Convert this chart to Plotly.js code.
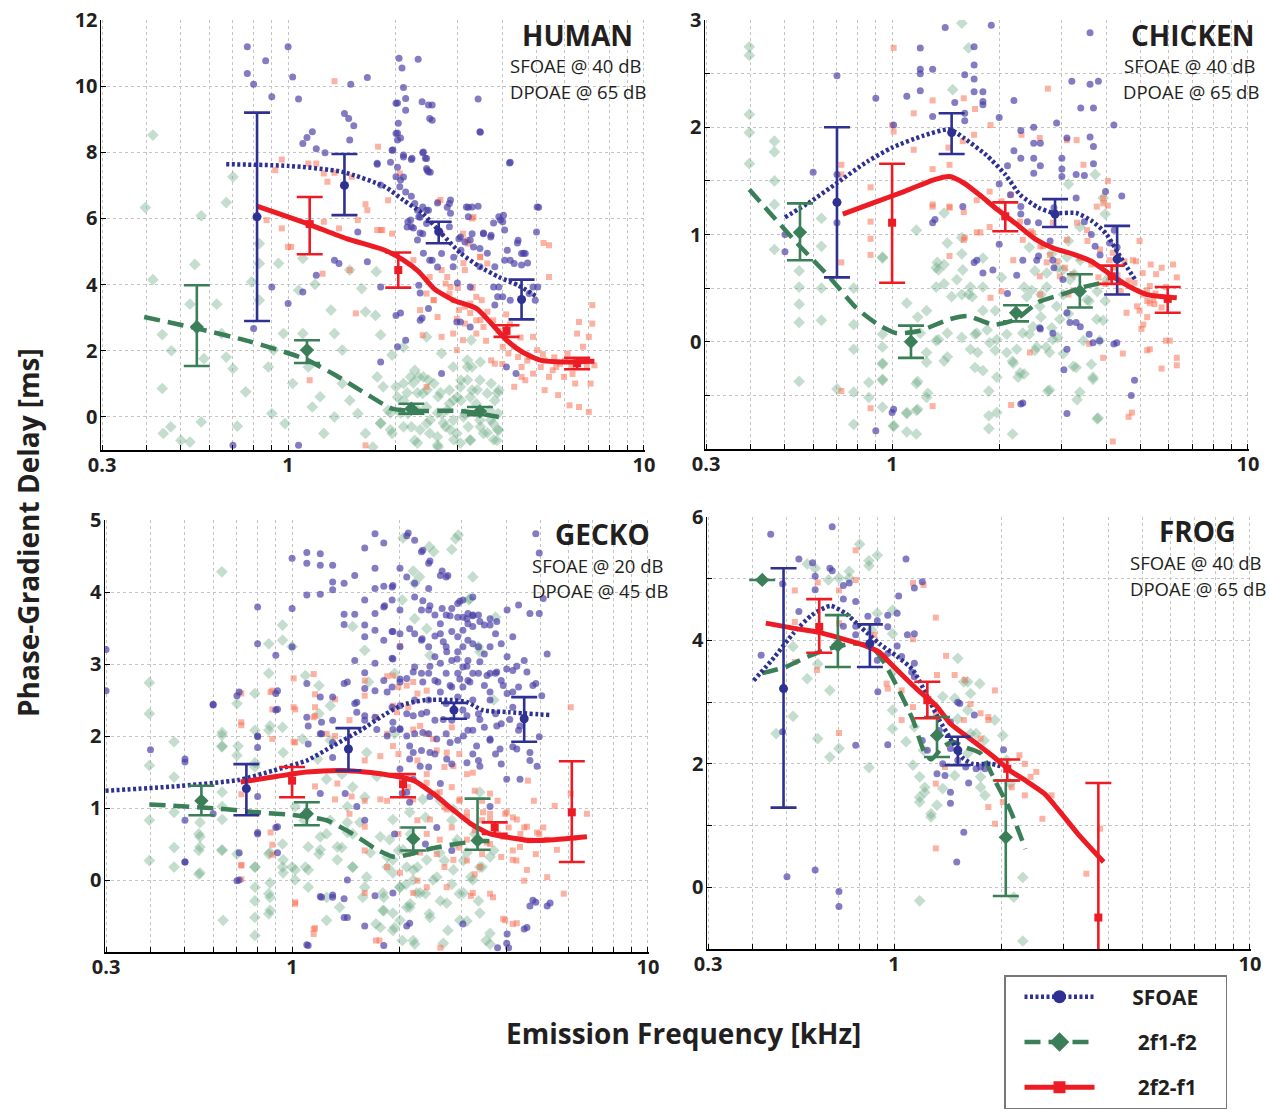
<!DOCTYPE html>
<html><head><meta charset="utf-8">
<script src="https://cdn.plot.ly/plotly-3.0.1.min.js"></script>
<style>html,body{margin:0;padding:0;background:#fff}</style>
</head><body><div id="chart" style="width:1270px;height:1112px"></div>
<script>
// ---------- tick labels ----------
const xTickVals = [0.3,0.4,0.5,0.6,0.7,0.8,0.9,1,2,3,4,5,6,7,8,9,10];
const xTickText = ['0.3','','','','','','','1','','','','','','','','','10'];
const humanYTicks = [0,2,4,6,8,10,12];
const humanYText = ['0','2','4','6','8','10','12'];
const chickenYTicks = [-0.5,0,0.5,1,1.5,2,2.5,3];
const chickenYText = ['','0','','1','','2','','3'];
const geckoYTicks = [0,1,2,3,4,5];
const geckoYText = ['0','1','2','3','4','5'];
const frogYTicks = [0,1,2,3,4,5,6];
const frogYText = ['0','','2','','4','','6'];
const seriesNames = ['SFOAE','2f1-f2','2f2-f1'];
const panelNames = ['HUMAN','CHICKEN','GECKO','FROG'];
const panelSfoaeLevel = ['SFOAE @ 40 dB','SFOAE @ 40 dB','SFOAE @ 20 dB','SFOAE @ 40 dB'];
const panelDpoaeLevel = ['DPOAE @ 65 dB','DPOAE @ 65 dB','DPOAE @ 45 dB','DPOAE @ 65 dB'];

// ---------- HUMAN ----------
const humanSfoaeCloud = [[0.768,11.19],[1.0,11.19],[0.768,10.38],[0.80,10.06],[0.865,10.77],[1.03,10.28],[0.90,9.68],[1.07,9.61],[1.50,10.06],[1.67,10.26],[2.05,10.84],[2.32,10.81],[2.09,10.55],[2.11,9.96],[2.14,9.63],[2.01,9.48],[2.38,9.53],[2.48,9.43],[2.50,9.02],[3.42,9.61],[3.46,8.62],[1.44,9.17],[1.48,9.02],[1.53,8.80],[1.49,8.37],[1.10,8.27],[1.13,8.45],[1.17,8.62],[1.27,7.99],[1.20,8.11],[2.01,8.57],[2.03,8.37],[1.96,8.06],[2.11,7.86],[2.22,7.78],[2.39,7.99],[2.45,7.81],[2.45,7.51],[2.48,7.41],[1.78,7.64],[1.82,7.01],[2.01,7.26],[2.06,6.96],[2.14,6.80],[2.22,6.67],[2.27,6.45],[2.39,6.35],[2.45,6.25],[2.33,6.05],[2.17,5.90],[2.22,5.75],[2.39,5.54],[2.45,5.85],[2.84,6.45],[3.17,6.35],[3.29,6.35],[3.21,6.05],[2.84,5.75],[3.02,5.39],[3.14,5.29],[3.29,5.54],[3.54,5.54],[3.72,5.49],[3.91,6.05],[4.01,5.90],[4.06,5.65],[4.19,7.68],[5.01,6.35],[4.99,5.59],[4.43,5.34],[4.53,4.94],[4.64,4.94],[4.32,4.64],[4.53,4.59],[4.06,4.74],[3.81,4.54],[3.46,5.09],[3.46,4.54],[3.06,5.04],[2.91,4.54],[2.70,4.94],[2.50,4.74],[2.33,3.98],[2.48,3.28],[2.35,2.92],[2.01,3.07],[2.03,2.12],[2.14,2.32],[2.98,2.87],[3.25,2.72],[4.11,1.51],[4.37,1.31],[4.95,3.53],[4.76,3.73],[4.88,3.93],[4.01,3.63],[3.91,3.93],[3.81,3.38],[1.82,1.66],[1.82,3.93],[1.67,4.69],[1.57,5.59],[1.39,4.64],[1.35,4.74],[1.20,4.28],[1.10,3.78],[1.00,3.43],[0.90,3.93],[0.80,2.67],[0.70,-0.86],[1.07,-0.86],[2.70,1.31],
  [2.03,9.49],[2.14,9.27],[2.54,9.43],[2.54,8.97],[2.04,8.88],[2.03,8.58],[2.07,8.43],[1.97,8.07],[2.11,7.92],[2.23,7.82],[2.40,8.01],[2.43,7.82],[2.46,7.46],[2.51,7.40],[2.03,7.55],[2.07,7.16],[2.11,7.25],[1.78,7.67],[1.94,7.70],[3.47,8.61],[4.21,7.70],[2.31,6.25],[2.35,6.04],[2.21,5.95],[2.16,5.74],[2.25,5.71],[2.35,5.56],[2.48,6.25],[2.80,6.34],[2.86,6.56],[3.21,6.34],[3.42,6.37],[2.63,6.47],[2.86,6.16],[3.05,5.44],[3.25,5.35],[3.54,5.56],[3.71,5.44],[3.78,5.86],[3.95,5.95],[4.03,6.10],[4.13,5.04],[4.41,5.26],[4.59,4.95],[4.71,4.65],[4.21,4.74],[3.63,4.95],[3.32,5.14],[2.92,4.83],[2.63,4.53],[2.40,4.95],[2.31,5.35],[2.99,4.05],[3.25,3.93],[3.78,3.93],[3.88,3.63],[4.21,3.53],[5.03,3.93],[5.06,6.34],[2.54,4.74],[2.35,3.75],[2.07,3.14],[2.38,2.99],[3.05,2.87]];
const humanDp1Cloud = [[0.417,8.52],[0.397,6.33],[0.70,7.26],[0.67,6.48],[0.57,6.08],[0.417,4.15],[0.547,4.61],[0.53,3.41],[0.63,3.41],[0.443,2.49],[0.47,2.0],[0.443,0.86],[0.446,-0.50],[0.468,-0.30],[0.50,-0.71],[0.53,-0.76],[0.57,-0.15],[0.72,-0.28],[0.70,1.46],[0.67,1.81],[0.76,0.76],[0.58,1.76],[0.65,2.52],[0.83,5.24],[0.83,4.64],[0.79,4.08],[0.83,3.53],[0.94,4.64],[0.97,2.52],[0.91,2.02],[0.88,1.51],[0.90,0.10],[0.98,-0.20],[1.03,1.01],[1.10,2.52],[1.07,3.83],[1.10,4.79],[1.19,4.01],[1.32,3.23],[1.35,2.52],[1.42,2.02],[1.49,4.44],[1.61,3.88],[1.65,3.18],[1.77,4.39],[1.76,3.07],[1.14,1.51],[1.23,0.61],[1.26,-0.50],[1.17,0.30],[1.35,0.0],[1.42,1.01],[1.49,0.50],[1.57,0.10],[1.65,-0.50],[1.73,-0.91],[1.82,-0.20],[1.91,0.20],[1.96,-0.50],[2.01,0.91],[2.11,1.01],[2.11,0.50],[2.17,0.10],[2.22,-0.30],[2.27,-0.71],[2.33,1.21],[2.39,0.71],[2.45,0.30],[2.45,-0.20],[2.50,-0.50],[2.57,1.01],[2.64,0.61],[2.64,-0.91],[2.70,0.10],[2.77,-0.30],[2.84,0.81],[2.84,0.40],[2.91,-0.10],[2.98,-0.50],[3.06,1.11],[3.06,0.50],[3.14,0.10],[3.21,-0.30],[3.25,-0.71],[3.29,0.81],[3.38,0.40],[3.46,1.11],[3.46,-0.10],[3.54,-0.50],[3.63,0.71],[3.68,0.20],[3.72,1.01],[3.77,-0.20],[3.81,0.50],[3.86,-0.71],[3.89,0.10],[3.91,0.81],[3.91,-0.40],[3.27,2.32],[2.45,2.42],[2.70,1.92],[2.27,1.41],[3.29,1.51],[2.91,1.51],
  [1.82,2.48],[1.96,1.87],[2.11,2.11],[2.21,1.21],[2.25,1.03],[2.40,1.21],[2.48,1.12],[2.46,0.82],[2.31,0.73],[2.16,0.73],[2.03,0.60],[1.85,0.91],[1.78,1.21],[1.82,-0.18],[1.94,-0.39],[2.11,-0.30],[2.35,-0.39],[2.51,-0.09],[2.63,-0.60],[2.73,-0.18],[2.86,-0.39],[2.92,-0.69],[2.99,0.60],[3.05,0.91],[3.19,1.12],[3.25,0.60],[3.40,0.82],[3.47,-0.30],[3.63,-0.48],[3.71,-0.09],[3.88,0.73],[3.88,-0.39],[3.78,-0.69],[2.63,0.12],[2.80,0.21],[3.11,0.0],[3.40,0.12],[2.92,0.51],[2.68,0.73],[2.07,0.12],[2.31,0.21],[1.94,0.12],[3.25,-0.69],[3.05,-0.79],[2.63,-0.85],[2.31,-0.79],[3.19,1.72],[3.19,1.51],[3.47,1.66]];
const humanDp2Cloud = [[1.35,10.15],[1.79,8.17],[0.96,7.78],[0.92,7.46],[1.14,7.66],[1.20,7.66],[1.26,7.36],[1.35,7.38],[1.29,7.11],[1.51,7.26],[1.65,6.43],[1.67,6.25],[1.91,6.55],[2.06,7.36],[0.87,5.95],[0.96,5.70],[1.00,5.14],[1.26,5.90],[1.39,5.70],[1.57,5.95],[1.78,5.65],[1.84,5.65],[1.96,5.54],[2.25,4.74],[2.64,6.50],[2.70,5.54],[3.10,5.54],[3.29,6.00],[3.21,5.24],[3.46,4.84],[3.63,4.64],[5.41,5.19],[5.41,4.23],[3.14,4.44],[2.50,4.23],[2.70,4.44],[2.45,3.73],[2.57,3.53],[2.77,4.03],[2.84,3.73],[2.91,3.53],[3.02,3.23],[3.14,3.33],[3.25,3.43],[3.38,3.63],[3.50,3.53],[3.63,3.18],[3.77,2.92],[2.98,2.97],[3.14,2.82],[3.38,2.92],[3.54,2.72],[3.10,2.32],[2.98,2.02],[2.91,2.52],[3.38,2.52],[3.72,1.71],[4.01,2.12],[4.16,1.92],[4.32,2.12],[4.43,1.81],[4.53,1.51],[4.64,1.11],[4.76,1.81],[4.88,2.42],[5.01,2.02],[5.13,1.51],[5.26,1.71],[5.41,1.21],[5.54,1.41],[5.67,1.51],[5.81,1.61],[5.96,1.21],[6.10,1.92],[6.25,1.51],[6.49,2.52],[6.57,2.87],[6.74,2.12],[6.91,1.51],[7.08,1.01],[7.16,3.38],[7.16,2.82],[7.00,2.42],[7.26,1.56],[6.41,1.01],[6.18,0.35],[6.57,0.30],[7.00,0.15],[5.74,0.66],[5.26,0.81],[4.53,1.21],[4.32,0.91],[4.88,1.31],[3.81,1.61],[2.70,2.42],[2.39,2.47],[2.45,0.91],[1.55,3.13],[1.49,4.44],[1.25,4.33],[1.15,1.11],[1.65,-0.86],[1.02,5.14],[3.9,2.6],[4.2,2.8],[4.5,2.4],[3.6,2.3],[4.0,1.6],[4.7,1.7],[5.2,1.9],[5.6,1.8],[6.0,1.7],[6.3,1.3],[6.7,1.7],[4.1,3.1],[3.3,3.9],[3.0,3.9],
  [3.19,5.35],[3.47,4.83],[3.11,4.65],[2.80,4.23],[2.86,3.93],[2.56,3.53],[2.35,3.23],[2.63,3.02],[3.25,3.14],[3.47,2.93],[5.22,5.26],[1.82,5.65],[2.68,6.56],[3.32,6.04]];
const humanSfoaeLineF = [0.67,1.0,1.42,1.87,2.11,2.39,2.70,3.06,3.46,3.91,4.43,5.01];
const humanSfoaeLineV = [7.64,7.59,7.41,6.96,6.55,6.15,5.54,4.94,4.54,4.23,3.98,3.63];
const humanDp1LineF = [0.394,0.557,0.787,1.11,1.36,1.65,1.96,2.27,3.06,3.91];
const humanDp1LineV = [3.02,2.67,2.27,1.76,1.26,0.71,0.25,0.18,0.18,0.0];
const humanDp2LineF = [0.817,1.14,1.46,1.87,2.11,2.33,2.57,2.91,3.38,3.73,4.11,4.54,5.14,5.96,7.26];
const humanDp2LineV = [6.37,5.83,5.39,5.04,4.74,4.39,3.88,3.53,3.28,2.82,2.32,1.97,1.71,1.66,1.68];
const humanSfoaeBinF = [0.818,1.44,2.65,4.53];
const humanSfoaeBinMean = [6.05,7.0,5.6,3.55];
const humanSfoaeBinHi = [9.2,7.95,5.9,4.15];
const humanSfoaeBinLo = [2.9,6.1,5.25,2.95];
const humanDp1BinF = [0.554,1.13,2.22,3.46];
const humanDp1BinMean = [2.72,2.02,0.25,0.17];
const humanDp1BinHi = [3.98,2.32,0.40,0.30];
const humanDp1BinLo = [1.54,1.63,0.10,0.05];
const humanDp2BinF = [1.15,2.04,4.11,6.49];
const humanDp2BinMean = [5.83,4.44,2.6,1.62];
const humanDp2BinHi = [6.65,4.97,2.77,1.79];
const humanDp2BinLo = [4.92,3.91,2.42,1.44];

// ---------- CHICKEN ----------
const chickenSfoaeCloud = [[1.41,2.93],[1.90,2.95],[3.60,2.88],[1.70,2.75],[1.20,2.74],[1.30,2.54],[1.20,2.54],[1.20,2.50],[0.70,2.48],[1.60,2.49],[1.70,2.58],[1.70,2.45],[1.70,2.33],[1.80,2.33],[0.90,2.27],[1.10,2.29],[1.20,2.34],[2.20,2.25],[3.20,2.43],[3.80,2.43],[3.60,2.40],[3.39,2.18],[3.68,2.18],[1.50,2.23],[1.60,2.13],[1.30,2.10],[2.00,2.09],[1.60,2.06],[1.80,2.24],[1.80,2.21],[2.90,2.04],[4.20,2.02],[1.01,2.02],[2.30,1.97],[2.50,2.00],[2.20,1.78],[3.10,1.90],[3.60,1.91],[3.68,1.82],[2.50,1.85],[2.61,1.85],[2.50,1.71],[2.30,1.71],[3.00,1.71],[2.61,1.64],[3.68,1.66],[2.11,1.64],[0.60,1.58],[0.70,1.56],[2.50,1.57],[3.00,1.61],[3.29,1.56],[3.47,1.55],[3.00,1.54],[3.98,1.40],[4.42,1.36],[2.00,1.47],[2.15,1.37],[2.30,1.26],[2.30,1.19],[2.40,1.12],[2.85,1.25],[2.58,1.11],[3.29,1.34],[3.47,1.12],[3.63,1.0],[3.72,0.89],[3.84,0.81],[4.09,0.92],[4.29,0.88],[4.21,1.04],[2.00,0.91],[1.70,0.74],[1.80,0.64],[2.58,0.80],[2.78,0.94],[2.85,0.69],[3.02,0.58],[1.30,1.11],[1.58,1.26],[0.50,0.84],[0.50,1.0],[0.70,1.11],[2.11,0.45],[2.61,0.12],[3.29,0.18],[3.58,0.07],[3.83,0.01],[4.20,-0.02],[3.10,-0.07],[3.04,-0.26],[4.80,-0.36],[4.70,-0.50],[3.10,-0.67],[2.30,-0.58],[1.00,-0.66],[0.90,-0.83],
  [1.73,0.76],[1.92,0.67],[2.33,0.76],[2.83,0.76],[3.10,0.27],[3.38,0.14],[3.16,0.18],[3.67,-0.01],[2.83,0.08],[2.60,0.13],[4.28,-0.01],[2.33,-0.57],[1.01,-0.63],[1.32,1.14],[2.24,0.62],[2.55,0.76]];
const chickenDp1Cloud = [[0.397,2.75],[0.397,2.67],[0.397,2.12],[0.397,1.95],[0.397,1.66],[0.467,1.87],[0.467,1.77],[0.467,1.50],[0.467,1.28],[0.467,0.86],[0.548,1.01],[0.548,0.66],[0.548,0.51],[0.548,0.35],[0.548,0.18],[0.548,-0.37],[0.633,1.15],[0.633,0.89],[0.633,0.50],[0.633,0.20],[0.70,-0.44],[0.78,0.50],[0.78,0.16],[0.78,-0.07],[0.78,-0.47],[0.78,-0.77],[0.86,-0.38],[0.86,-0.52],[0.94,0.78],[0.94,0.07],[0.94,-0.05],[0.94,-0.21],[0.94,-0.36],[0.94,-0.61],[1.01,-0.78],[1.10,0.36],[1.10,-0.67],[1.10,-0.84],[1.17,1.04],[1.17,-0.39],[1.17,-0.64],[1.17,-0.86],[1.25,0.29],[1.25,-0.19],[1.25,-0.52],[1.33,0.69],[1.33,0.51],[1.33,0.01],[1.40,1.20],[1.40,0.72],[1.40,0.54],[1.40,-0.18],[1.48,2.35],[1.64,2.74],[1.57,2.97],[1.57,0.97],[1.57,0.82],[1.57,0.44],[1.57,0.04],[1.64,0.44],[1.71,0.07],[1.71,-0.24],[1.80,0.78],[1.80,0.51],[1.80,0.29],[1.80,-0.27],[1.87,-0.46],[1.87,-0.69],[1.87,-0.81],[1.95,0.29],[1.95,-0.08],[2.03,0.60],[2.10,0.07],[2.18,-0.86],[2.18,-0.18],[2.26,-0.33],[2.35,0.51],[2.35,-0.30],[2.43,0.88],[2.43,0.07],[2.52,0.66],[2.52,-0.08],[2.62,0.44],[2.62,0.23],[2.71,-0.05],[2.74,-0.46],[2.81,0.82],[2.81,0.13],[2.92,0.69],[2.92,0.04],[3.03,0.44],[3.03,-0.11],[3.13,1.47],[3.13,0.94],[3.13,0.26],[3.25,0.63],[3.29,-0.24],[3.37,1.07],[3.37,-0.47],[3.45,0.01],[3.58,0.38],[3.63,-0.21],[3.67,-0.35],[3.72,1.56],[3.77,0.47],[3.77,-0.72],[3.83,0.01],[3.92,1.34],[3.92,0.20],[3.97,1.19],[3.97,0.38],
  [0.94,0.79],[0.94,-0.20],[0.94,-0.35],[1.01,-0.79],[1.10,-0.66],[1.18,-0.37],[1.18,-0.63],[1.26,-0.48],[1.25,-0.10],[1.35,0.02],[1.43,0.92],[1.43,-0.14],[1.34,0.74],[1.35,0.67],[1.52,0.58],[1.58,0.67],[1.47,0.42],[1.66,0.51],[1.68,0.42],[1.73,0.08],[1.74,-0.10],[1.85,0.11],[1.88,-0.01],[1.97,0.02],[1.97,-0.33],[1.97,-0.66],[2.10,-0.10],[2.19,-0.20],[2.24,-0.07],[2.29,-0.29],[2.33,0.08],[2.39,0.42],[2.47,0.48],[2.49,0.14],[2.55,-0.05],[2.60,0.33],[2.72,0.64],[2.72,0.51],[2.77,-0.10],[2.77,-0.45],[2.83,0.02],[2.90,0.33],[2.96,0.21],[3.02,0.67],[3.10,0.79],[3.16,0.58],[3.23,-0.23],[3.31,-0.54],[3.38,0.76],[3.53,0.39],[3.67,-0.33],[3.76,0.21],[3.79,-0.71],[4.01,0.58],[1.66,-0.07],[1.43,0.08],[1.18,0.23],[1.20,0.08]];
const chickenDp2Cloud = [[1.01,2.74],[2.74,2.36],[1.30,2.25],[1.59,2.27],[1.71,2.17],[1.15,2.13],[1.01,1.96],[1.0,2.02],[1.15,1.79],[1.44,1.81],[1.45,1.65],[1.58,1.87],[1.70,1.93],[1.89,2.02],[2.31,1.93],[2.60,1.90],[3.10,1.88],[3.30,1.88],[3.45,1.65],[4.04,1.50],[3.92,1.34],[4.04,1.27],[0.72,1.65],[0.72,1.56],[0.87,1.44],[0.87,1.12],[0.87,0.96],[0.87,0.81],[0.72,0.74],[1.30,1.61],[1.30,1.26],[1.45,1.25],[1.59,1.21],[1.73,1.32],[1.73,1.02],[1.45,0.80],[1.59,0.95],[1.88,1.40],[2.03,1.31],[2.16,1.37],[2.29,1.12],[2.46,1.03],[2.61,0.89],[2.78,0.81],[2.92,0.75],[3.06,0.69],[3.21,0.63],[3.37,0.78],[3.54,0.94],[3.63,0.72],[3.80,0.60],[3.98,0.54],[4.19,0.69],[4.39,0.47],[4.62,0.57],[4.85,0.75],[4.96,0.94],[5.08,0.44],[5.21,0.38],[5.33,0.72],[5.52,0.63],[5.72,0.69],[5.88,0.51],[6.16,0.72],[6.31,0.60],[4.96,0.29],[5.21,0.23],[5.46,0.35],[5.72,0.32],[5.08,0.16],[5.02,0.12],[5.88,0.01],[6.03,0.01],[5.21,-0.08],[4.45,-0.11],[6.31,-0.15],[6.31,-0.22],[5.72,-0.25],[4.72,-0.66],[4.62,-0.70],[4.17,-0.93],[3.92,-0.15],[3.58,-0.02],[2.44,-0.10],[2.16,-0.59],[1.30,-0.60],[0.87,-0.62],[0.72,-0.46],[1.89,0.41],[2.03,0.47],[2.61,0.44],[3.13,0.44],[4.5,0.75],[4.3,0.62],[4.8,0.55],[5.5,0.45],[6.0,0.40],[5.3,0.52],
  [1.30,1.28],[1.45,1.26],[1.60,0.97],[1.77,1.02],[1.88,1.07],[2.19,0.76],[2.33,0.95],[2.49,1.01],[2.66,0.89],[2.83,1.11],[3.10,0.95],[3.31,1.11],[3.53,1.04],[3.76,1.26],[3.92,1.29],[3.84,0.86],[4.09,0.76],[4.17,0.83],[4.56,0.27],[4.88,0.33],[4.75,0.76],[5.06,0.64],[5.20,0.48],[5.30,-0.07],[5.30,0.36],[5.42,0.39],[2.60,0.61],[2.96,0.61],[2.72,0.74],[3.23,0.48]];
const chickenSfoaeLineF = [0.50,0.592,0.70,0.851,1.0,1.22,1.45,1.59,1.84,2.08,2.29,2.58,2.85,3.29,3.63,3.99,4.40,4.84];
const chickenSfoaeLineV = [1.16,1.31,1.48,1.68,1.81,1.92,1.98,1.90,1.74,1.56,1.37,1.25,1.20,1.20,1.13,1.01,0.78,0.57];
const chickenDp1LineF = [0.397,0.465,0.551,0.668,0.791,0.914,1.03,1.19,1.45,1.63,1.93,2.23,2.58,2.99,3.45,3.90];
const chickenDp1LineV = [1.42,1.16,0.89,0.60,0.32,0.16,0.08,0.10,0.21,0.24,0.16,0.21,0.37,0.44,0.51,0.55];
const chickenDp2LineF = [0.727,0.893,1.08,1.31,1.45,1.59,1.76,1.98,2.23,2.52,2.85,3.21,3.63,4.09,4.61,5.21,6.31];
const chickenDp2LineV = [1.19,1.30,1.40,1.51,1.54,1.48,1.37,1.23,1.10,0.96,0.87,0.82,0.75,0.63,0.52,0.44,0.41];
const chickenSfoaeBinF = [0.70,1.47,2.87,4.29];
const chickenSfoaeBinMean = [1.30,1.95,1.19,0.77];
const chickenSfoaeBinHi = [2.0,2.13,1.33,1.08];
const chickenSfoaeBinLo = [0.60,1.75,1.07,0.44];
const chickenDp1BinF = [0.551,1.13,2.23,3.37];
const chickenDp1BinMean = [1.02,0.0,0.27,0.47];
const chickenDp1BinHi = [1.29,0.15,0.34,0.63];
const chickenDp1BinLo = [0.76,-0.15,0.19,0.32];
const chickenDp2BinF = [1.0,2.08,4.14,5.95];
const chickenDp2BinMean = [1.11,1.17,0.61,0.40];
const chickenDp2BinHi = [1.66,1.30,0.71,0.51];
const chickenDp2BinLo = [0.55,1.03,0.54,0.27];

// ---------- GECKO ----------
const geckoSfoaeCloud = [[0.30,3.20],[0.30,2.63],[0.40,1.81],[0.50,1.64],[0.50,0.83],[0.50,0.25],[0.60,2.43],[0.60,0.92],[0.70,2.56],[0.70,-0.01],[0.80,3.79],[0.80,3.28],[0.80,1.99],[0.80,0.64],[0.90,3.12],[0.90,2.59],[0.90,2.36],[0.90,0.73],[1.0,4.47],[1.0,3.77],[1.0,3.24],[1.10,4.55],[1.10,4.40],[1.10,3.96],[1.10,2.73],[1.10,2.26],[1.20,4.53],[1.20,4.37],[1.20,3.97],[1.20,2.54],[1.20,2.03],[1.20,1.20],[1.30,4.37],[1.30,4.14],[1.30,4.03],[1.30,2.54],[1.30,2.22],[1.40,4.12],[1.40,3.69],[1.40,3.55],[1.40,2.73],[1.40,-0.52],[1.50,4.23],[1.50,3.69],[1.50,3.05],[1.50,2.45],[1.60,4.61],[1.60,3.89],[1.60,3.54],[1.60,3.38],[1.60,2.88],[1.60,2.66],[1.60,2.22],[1.60,-0.64],[1.71,4.81],[1.71,4.33],[1.71,4.05],[1.71,3.70],[1.71,3.47],[1.71,3.01],[1.71,2.63],[1.71,2.26],[1.81,4.68],[1.81,4.08],[1.81,3.79],[1.81,3.33],[1.81,2.77],[1.81,-0.91],[1.91,4.07],[1.91,3.89],[1.91,3.45],[1.91,3.08],[1.91,2.68],[1.91,2.40],[2.01,4.33],[2.01,3.75],[2.01,3.42],[2.01,3.24],[2.01,2.75],[2.01,2.10],[2.10,4.78],[2.10,4.21],[2.10,2.80],[2.10,2.31],[2.10,-0.64],[2.21,4.72],[2.21,4.12],[2.21,3.93],[2.21,3.42],[2.21,2.96],[2.21,2.50],[2.21,2.03],[2.31,4.56],[2.31,3.75],[2.31,3.33],[2.31,2.87],[2.31,2.31],[2.31,1.80],[2.42,4.40],[2.42,4.05],[2.42,3.75],[2.42,3.24],[2.42,2.87],[2.42,2.50],[2.42,2.03],[2.42,1.57],[2.52,3.68],[2.52,3.10],[2.52,2.77],[2.52,2.22],[2.52,1.75],[2.61,4.23],[2.61,3.56],[2.61,3.42],[2.61,3.01],[2.61,2.61],[2.61,1.34],[2.71,4.21],[2.71,3.68],[2.71,3.24],[2.71,2.87],[2.71,2.45],[2.71,2.03],[2.81,3.77],[2.81,3.45],[2.81,3.05],[2.81,2.68],[2.81,2.22],[2.81,1.61],[2.92,3.84],[2.92,3.65],[2.92,3.38],[2.92,3.17],[2.92,2.87],[2.92,2.54],[2.92,1.94],[3.02,3.89],[3.02,3.65],[3.02,3.47],[3.02,3.24],[3.02,2.96],[3.02,2.68],[3.02,2.36],[3.02,-0.61],[3.12,3.70],[3.12,3.56],[3.12,3.33],[3.12,3.05],[3.12,2.77],[3.12,2.08],[3.22,3.93],[3.22,3.68],[3.22,3.52],[3.22,3.28],[3.22,2.87],[3.22,2.50],[3.22,2.08],[3.22,1.75],[3.34,3.68],[3.34,3.24],[3.34,2.87],[3.34,2.31],[3.34,1.66],[3.47,3.54],[3.47,3.14],[3.47,2.70],[3.47,2.12],[3.60,3.54],[3.60,3.24],[3.60,2.87],[3.60,2.50],[3.60,1.94],[3.73,3.42],[3.73,2.87],[3.73,2.31],[3.73,1.75],[3.87,3.28],[3.87,2.77],[3.87,2.17],[3.87,1.61],[4.02,3.75],[4.02,3.10],[4.02,2.59],[4.02,-0.75],[4.17,3.38],[4.17,2.91],[4.17,2.40],[4.17,1.85],[4.33,3.82],[4.33,2.68],[4.33,2.08],[4.49,3.05],[4.49,2.26],[4.49,-0.68],[4.66,3.70],[4.66,1.66],[4.66,-0.36],[4.84,4.81],[4.84,2.73],[4.95,4.54],[4.95,3.70],[4.95,1.99],[5.08,3.91],[5.21,3.14],[5.21,-0.36],[4.84,-0.31],[4.06,-0.94],[3.78,-0.94],[1.20,-0.23],[1.30,-0.21],[1.40,-0.26],[1.71,-0.22],[1.10,-0.90],[2.55,0.73],[2.81,0.41],[2.37,0.50],[2.04,1.20],[1.60,0.83],[1.41,1.20],[1.94,0.64],
  [0.60,2.44],[0.71,2.61],[0.91,2.63],[0.91,2.37],[0.80,2.00],[0.80,1.84],[0.80,1.16],[0.80,0.66],[0.71,0.38],[0.71,0.0],[0.50,1.68],[0.50,0.25],[0.91,0.74],[1.11,2.14],[1.11,1.89],[1.21,2.19],[1.21,2.03],[1.30,1.91],[1.30,1.70],[1.43,2.75],[1.52,2.47],[1.52,2.33],[1.60,2.28],[1.73,2.09],[1.85,2.00],[1.92,2.19],[2.01,2.09],[2.14,1.86],[2.14,1.68],[2.19,1.40],[2.14,1.08],[1.52,1.02],[1.43,0.0],[1.30,-0.24],[1.21,-0.24],[1.43,-0.52],[1.92,-0.18],[2.14,-0.60],[1.11,-0.91],[0.91,0.38],
  [2.12,4.82],[2.33,4.58],[2.44,4.43],[2.64,4.29],[2.74,4.23],[1.92,4.09],[1.82,3.81],[2.33,3.88],[2.44,3.81],[2.64,3.77],[2.78,3.67],[2.96,3.87],[3.10,3.63],[3.22,3.67],[3.37,3.59],[3.60,3.63],[3.76,3.59],[1.92,3.45],[2.14,3.49],[2.32,3.35],[2.52,3.39],[2.66,3.31],[2.72,3.17],[2.91,3.07],[3.10,2.97],[3.37,3.03],[3.53,2.84],[3.76,2.89],[4.01,2.93],[4.28,2.97],[4.57,2.89],[1.92,3.07],[2.01,2.79],[2.19,2.89],[2.33,2.75],[2.44,2.97],[2.57,2.75],[2.78,2.70],[2.96,2.79],[3.16,2.75],[3.60,2.61],[3.92,2.70],[4.17,2.61],[4.75,2.70],[5.03,2.56],[1.85,2.61],[2.01,2.42],[2.19,2.28],[2.39,2.33],[2.66,2.23],[3.10,2.28],[3.37,2.23],[3.76,2.14],[4.09,2.23],[4.37,2.14],[1.92,2.09],[2.10,2.00],[2.33,2.05],[2.55,1.96],[2.78,1.91],[3.03,2.00],[3.30,1.86],[3.60,1.96],[3.84,1.82],[4.28,1.82],[4.66,1.77],[4.88,1.58],[2.19,1.77],[2.44,1.77],[2.72,1.68],[3.10,1.63],[3.37,1.58],[2.29,1.58],[2.01,1.54],[4.01,1.40],[4.37,1.40],[2.10,1.22],[2.44,1.16],[3.60,1.02],[4.75,-0.28],[5.31,-0.32],[4.57,-0.66],[4.01,-0.88]];
const geckoDp1Cloud = [[0.397,2.74],[0.397,2.31],[0.397,1.59],[0.397,0.83],[0.397,0.27],[0.466,1.92],[0.466,1.43],[0.466,0.94],[0.466,0.45],[0.466,0.18],[0.547,0.64],[0.547,0.41],[0.547,0.08],[0.635,4.28],[0.635,2.01],[0.635,1.85],[0.635,0.41],[0.70,2.45],[0.70,1.73],[0.70,0.36],[0.786,2.59],[0.786,2.08],[0.786,1.57],[0.786,0.18],[0.786,-0.29],[0.786,-0.52],[0.786,-0.77],[0.86,3.28],[0.86,2.87],[0.86,2.08],[0.86,0.36],[0.86,-0.19],[0.86,-0.47],[0.94,3.54],[0.94,3.33],[0.94,2.12],[0.94,0.50],[0.94,0.18],[1.0,3.24],[1.0,0.18],[1.09,2.84],[1.09,0.18],[1.19,2.70],[1.19,2.31],[1.19,0.36],[1.28,1.94],[1.28,0.83],[1.38,1.47],[1.38,0.45],[1.48,3.52],[1.48,1.29],[1.48,0.64],[1.60,3.19],[1.60,1.15],[1.60,-0.10],[1.64,2.75],[1.72,-0.61],[1.81,-0.24],[1.81,-0.43],[1.85,0.18],[1.94,2.87],[1.94,-0.66],[1.99,0.41],[2.04,-0.84],[2.09,-0.06],[2.15,-0.33],[2.21,-0.89],[2.25,0.18],[2.28,4.21],[2.37,-0.19],[2.43,4.63],[2.43,-0.47],[2.50,4.56],[2.55,0.04],[2.61,-0.29],[2.68,0.27],[2.74,-0.70],[2.81,-0.06],[2.88,0.50],[2.88,4.74],[2.81,4.59],[2.95,-0.19],[3.03,0.27],[3.10,-0.57],[3.14,3.89],[3.22,4.21],[3.18,0.04],[3.26,0.64],[3.34,-0.29],[3.34,3.24],[3.42,0.18],[3.51,-0.84],[3.60,-0.89],[3.69,2.50],[3.69,0.41],[3.73,3.65],[2.15,0.64],[2.37,0.87],[2.61,1.10],[2.81,0.83],[2.04,3.89],[2.21,4.12],[1.94,2.03],[1.25,0.64],[1.08,0.83],[1.48,0.18],
  [0.636,2.05],[0.636,1.86],[0.705,1.86],[0.551,0.80],[0.551,0.60],[0.551,0.46],[0.636,1.22],[0.636,1.02],[0.636,0.84],[0.636,0.42],[0.551,0.10],[0.787,1.63],[0.787,0.18],[0.787,-0.10],[0.867,2.14],[0.867,0.38],[0.867,-0.04],[0.867,-0.24],[0.867,-0.42],[0.944,1.77],[0.944,0.28],[0.944,0.10],[1.02,1.02],[1.02,0.14],[1.02,0.0],[1.11,0.46],[1.11,0.14],[1.11,-0.10],[1.20,0.60],[1.20,0.42],[1.25,1.40],[1.34,0.46],[1.34,0.28],[1.43,1.02],[1.43,0.80],[1.43,0.66],[1.48,0.18],[1.55,0.80],[1.62,0.04],[1.66,0.38],[1.77,0.60],[1.80,-0.18],[1.85,0.32],[1.92,0.10],[2.01,-0.10],[2.10,0.18],[2.14,-0.38],[2.19,0.0],[2.24,-0.18],[1.92,-0.46],[1.77,-0.66],[1.58,-0.24],[1.36,-0.38],[1.25,-0.56],[1.25,-0.24],[1.73,1.44],[1.62,1.77],[1.28,2.42],[1.18,1.68],[1.07,1.96],[0.64,-0.56],
  [1.92,0.84],[1.88,0.56],[2.05,0.42],[1.92,0.28],[2.19,0.14],[2.39,0.28],[2.60,0.38],[2.84,0.14],[2.49,0.0],[2.01,-0.10],[2.29,-0.18],[2.72,-0.32],[3.03,-0.18],[3.22,0.0],[3.37,0.18],[3.60,0.32],[3.10,0.38],[2.91,0.56],[2.10,-0.38],[2.44,-0.52],[2.96,-0.56],[3.37,-0.46],[3.60,-0.74],[1.92,-0.70],[2.19,-0.84],[2.66,-0.88],[2.01,-0.56],[1.80,-0.42],[2.14,0.94],[2.33,1.12],[3.37,1.22],[2.84,0.98],[2.19,4.29],[2.21,3.63],[2.39,3.49],[3.16,3.91],[3.37,3.17],[2.44,3.12],[2.05,4.75],[2.93,4.79]];
const geckoDp2Cloud = [[0.72,2.59],[0.72,2.15],[0.72,0.20],[0.72,0.01],[0.87,2.61],[0.87,0.66],[1.01,2.80],[1.01,2.40],[1.01,1.92],[1.02,-0.33],[1.15,2.86],[1.15,2.26],[1.15,-0.68],[1.15,-0.75],[1.25,2.03],[1.34,1.34],[1.45,2.22],[1.45,0.92],[1.60,2.77],[1.60,1.66],[1.60,1.10],[1.60,0.41],[1.72,2.26],[1.72,-0.84],[1.85,2.83],[1.85,2.03],[1.85,1.10],[1.85,0.18],[1.99,2.68],[2.01,3.25],[1.99,1.75],[1.99,0.64],[2.12,2.40],[2.12,1.29],[2.12,0.36],[2.25,2.59],[2.25,1.66],[2.25,0.83],[2.25,-0.01],[2.39,2.63],[2.39,2.03],[2.39,1.47],[2.39,0.64],[2.39,-0.10],[2.55,1.80],[2.55,1.20],[2.55,0.36],[2.68,1.57],[2.68,1.01],[2.68,0.18],[2.81,2.12],[2.81,1.29],[2.81,0.73],[2.95,1.75],[2.95,1.10],[2.95,0.45],[3.10,1.47],[3.10,0.87],[3.10,0.27],[3.26,1.24],[3.26,0.69],[3.26,0.08],[3.42,1.10],[3.42,0.83],[3.42,0.36],[3.60,1.20],[3.60,0.92],[3.60,0.50],[3.60,-0.19],[3.78,1.10],[3.78,0.64],[3.87,0.32],[3.97,0.92],[4.06,0.73],[4.17,0.87],[4.17,0.41],[4.27,0.27],[4.38,0.64],[4.49,0.73],[4.49,-0.01],[4.60,1.38],[4.66,0.55],[4.78,1.10],[4.84,0.36],[4.95,0.64],[5.08,0.73],[5.21,0.04],[5.47,1.03],[6.07,2.40],[6.07,1.20],[5.80,-0.19],[6.74,0.92],[4.17,-0.61],[3.92,-0.54],[3.18,-0.22],[2.61,-0.94],
  [0.88,2.63],[0.88,2.37],[0.88,1.96],[0.72,2.19],[0.72,1.19],[0.72,0.21],[0.88,0.49],[0.88,0.35],[1.02,2.37],[1.02,1.91],[1.02,-0.31],[1.16,2.58],[1.16,2.40],[1.16,2.28],[1.16,1.30],[1.32,2.51],[1.32,2.00],[1.32,1.12],[1.47,1.16],[1.60,2.56],[1.60,0.74],[1.60,-0.18],[1.77,1.72],[1.77,1.12],[1.92,2.42],[1.92,1.86],[2.10,2.70],[2.19,2.09],[1.16,-0.67],[1.76,-0.84],
  [1.92,2.84],[2.19,2.75],[1.97,2.33],[2.29,2.14],[2.49,1.96],[2.72,1.77],[2.84,1.58],[3.22,1.49],[2.39,1.35],[2.19,1.12],[2.60,1.22],[2.96,1.12],[3.10,0.94],[2.72,0.98],[2.44,0.84],[3.44,0.94],[3.60,0.84],[4.01,0.94],[4.28,0.84],[4.57,0.74],[4.88,0.66],[5.20,0.56],[5.55,0.42],[4.37,0.46],[3.92,0.60],[3.53,0.52],[3.10,0.56],[2.60,0.56],[2.29,0.38],[2.84,0.28],[3.37,0.18],[4.17,0.28],[4.57,0.14],[2.72,-0.10],[3.22,-0.18],[3.67,-0.24],[2.19,-0.18],[2.01,0.10],[3.97,-0.56],[4.28,-0.60]];
const geckoSfoaeLineF = [0.299,0.466,0.708,0.885,1.10,1.31,1.56,1.81,2.04,2.37,2.81,3.10,3.43,4.07,5.33];
const geckoSfoaeLineV = [1.24,1.30,1.39,1.52,1.66,1.87,2.08,2.29,2.43,2.50,2.50,2.47,2.36,2.33,2.29];
const geckoDp1LineF = [0.397,0.502,0.626,0.801,1.02,1.25,1.48,1.72,1.94,2.15,2.43,2.88,3.34,3.69];
const geckoDp1LineV = [1.05,1.02,0.99,0.94,0.90,0.83,0.64,0.43,0.32,0.36,0.43,0.50,0.54,0.54];
const geckoDp2LineF = [0.717,0.91,1.10,1.41,1.81,2.20,2.49,2.81,3.18,3.60,4.07,4.60,5.47,6.74];
const geckoDp2LineV = [1.36,1.44,1.50,1.52,1.47,1.38,1.20,0.99,0.78,0.64,0.59,0.55,0.56,0.60];
const geckoSfoaeBinF = [0.744,1.44,2.85,4.49];
const geckoSfoaeBinMean = [1.27,1.82,2.36,2.24];
const geckoSfoaeBinHi = [1.61,2.11,2.46,2.54];
const geckoSfoaeBinLo = [0.90,1.52,2.24,1.92];
const geckoDp1BinF = [0.556,1.10,2.19,3.32];
const geckoDp1BinMean = [1.10,0.92,0.57,0.55];
const geckoDp1BinHi = [1.31,1.08,0.73,1.13];
const geckoDp1BinLo = [0.90,0.76,0.41,0.42];
const geckoDp2BinF = [1.0,2.05,3.71,6.11];
const geckoDp2BinMean = [1.38,1.33,0.73,0.94];
const geckoDp2BinHi = [1.57,1.47,0.80,1.65];
const geckoDp2BinLo = [1.15,1.15,0.64,0.25];

// ---------- FROG ----------
const frogSfoaeCloud = [[0.45,5.72],[0.67,5.84],[0.54,5.32],[0.59,5.26],[0.66,5.17],[0.67,5.13],[0.60,5.04],[0.60,4.82],[0.486,4.92],[0.72,4.89],[0.748,4.93],[1.08,5.32],[1.20,4.95],[1.14,4.85],[1.03,4.72],[0.72,4.67],[0.54,4.47],[0.78,4.63],[0.96,4.41],[1.02,4.44],[0.844,4.39],[0.897,4.32],[0.72,4.23],[0.78,4.23],[0.96,4.22],[0.78,4.09],[1.09,4.09],[1.14,4.11],[1.02,3.91],[0.96,3.79],[0.423,3.76],[0.897,3.68],[1.05,3.74],[1.14,3.63],[1.12,3.49],[1.14,3.41],[0.90,3.17],[0.486,2.52],[0.78,2.30],[0.96,2.31],[1.51,3.00],[1.53,2.98],[1.68,2.79],[1.44,2.68],[1.34,2.54],[1.20,2.38],[1.24,2.22],[1.37,2.00],[1.44,2.25],[1.51,2.06],[1.59,1.95],[1.70,1.92],[1.75,1.95],[1.80,1.92],[2.03,2.23],[1.39,1.81],[1.32,1.84],[1.44,1.54],[1.62,1.69],[1.44,1.36],[1.57,0.89],[1.50,0.41],[0.50,0.17],[0.60,0.28],[0.70,-0.07],[0.70,-0.31]];
const frogDp1Cloud = [[0.57,5.24],[0.60,5.17],[0.748,5.12],[0.748,5.01],[0.80,5.56],[0.85,5.29],[0.85,5.21],[0.897,5.38],[0.70,5.01],[0.654,4.98],[0.897,4.44],[0.99,4.49],[0.865,4.17],[0.99,4.11],[0.52,3.90],[0.57,3.38],[0.61,3.62],[0.66,3.19],[0.52,2.77],[0.466,2.49],[0.61,2.41],[0.66,2.11],[0.70,2.25],[0.85,1.94],[1.13,1.98],[0.99,3.49],[0.99,2.87],[0.99,2.57],[1.08,2.36],[1.14,2.60],[1.21,2.22],[1.18,1.79],[1.22,1.62],[1.22,1.54],[1.18,1.46],[1.18,1.38],[1.27,1.19],[1.27,1.14],[1.32,1.33],[1.37,1.60],[1.37,3.09],[1.48,3.06],[1.51,3.71],[1.57,3.33],[1.61,3.33],[1.64,3.14],[1.74,3.30],[1.51,2.73],[1.61,2.87],[1.64,2.49],[1.70,2.49],[1.79,2.38],[1.92,2.71],[2.02,2.46],[1.48,1.81],[1.61,2.17],[1.75,1.79],[1.75,1.62],[1.80,1.49],[2.12,1.68],[2.07,2.06],[2.30,0.16],[2.17,-0.16],[2.30,-0.87],[1.18,-0.22]];
const frogDp2Cloud = [[0.78,5.46],[0.61,4.94],[0.526,4.81],[0.78,4.98],[0.70,4.81],[1.13,4.93],[1.21,4.90],[1.13,4.02],[1.31,4.37],[0.88,4.09],[0.526,4.30],[0.526,3.65],[0.607,3.52],[0.70,4.28],[0.953,3.30],[0.96,3.22],[1.05,3.19],[1.40,3.75],[1.48,3.44],[1.58,3.36],[1.32,3.44],[1.13,2.92],[1.05,2.71],[1.31,2.79],[1.57,2.71],[1.75,2.82],[1.84,2.76],[1.84,2.71],[1.92,3.19],[1.64,2.97],[1.75,2.41],[0.70,2.50],[1.31,1.68],[1.39,1.95],[1.31,0.63],[1.84,1.30],[1.92,1.03],[2.02,1.38],[2.14,1.62],[2.25,2.14],[2.33,2.00],[2.42,1.79],[2.51,1.87],[2.33,1.49],[2.61,1.11],[2.77,1.49],[3.47,0.22],[3.79,0.95]];
const frogSfoaeLineF = [0.403,0.461,0.520,0.587,0.662,0.730,0.804,0.908,1.02,1.13,1.24,1.34,1.44,1.55,1.66,1.88,2.02];
const frogSfoaeLineV = [3.35,3.73,4.11,4.41,4.56,4.44,4.22,3.95,3.74,3.52,3.09,2.71,2.41,2.11,2.00,2.00,1.95];
const frogDp1LineF = [0.426,0.495,0.573,0.662,0.766,0.865,0.929,1.02,1.13,1.21,1.27,1.37,1.46,1.58,1.75,1.92,2.12,2.34];
const frogDp1LineV = [3.47,3.57,3.74,3.87,3.95,3.90,3.68,3.25,2.71,2.22,2.07,2.27,2.36,2.27,2.17,1.73,1.25,0.62];
const frogDp2LineF = [0.436,0.52,0.616,0.712,0.824,0.908,0.976,1.08,1.18,1.31,1.44,1.66,1.88,2.12,2.34,2.64,2.90,3.28,3.88];
const frogDp2LineV = [4.28,4.20,4.13,4.03,3.92,3.81,3.63,3.38,3.17,2.95,2.65,2.38,2.14,1.89,1.73,1.52,1.25,0.87,0.41];
const frogSfoaeBinF = [0.489,0.855,1.51];
const frogSfoaeBinMean = [3.22,3.95,2.22];
const frogSfoaeBinHi = [5.17,4.26,2.44];
const frogSfoaeBinLo = [1.29,3.57,1.98];
const frogDp1BinF = [0.426,0.695,1.32,2.06];
const frogDp1BinMean = [4.98,3.92,2.46,0.81];
const frogDp1BinHi = [null,4.41,2.76,1.73];
const frogDp1BinLo = [null,3.57,2.11,-0.14];
const frogDp2BinF = [0.616,1.24,2.08,3.75];
const frogDp2BinMean = [4.22,3.03,1.92,-0.49];
const frogDp2BinHi = [4.67,3.33,2.07,1.69];
const frogDp2BinLo = [3.80,2.74,1.73,-1.6];

// ---------- styles ----------
const BLUE = '#2e3192', GREEN = '#3b7f58', RED = '#ed1c24';
const INK = '#231f20';
const FONT = 'Open Sans, Noto Sans, sans-serif';
const cloudStyle = [
  {symbol:'circle', size:7, color:'rgba(72,62,165,0.68)'},
  {symbol:'diamond', size:9, color:'rgba(100,165,125,0.38)'},
  {symbol:'square', size:6, color:'rgba(250,115,85,0.55)'}
];
const lineStyle = [
  {color:BLUE, width:4.5, dash:'3px,2.5px'},
  {color:GREEN, width:4.5, dash:'16px,8px'},
  {color:RED, width:5, dash:'solid'}
];
const meanMarker = [
  {symbol:'circle', size:9, color:BLUE},
  {symbol:'diamond', size:11, color:GREEN},
  {symbol:'square', size:8, color:RED}
];
const seriesColor = [BLUE, GREEN, RED];

const panels = [
  {xa:'x', ya:'y', clouds:[humanSfoaeCloud, humanDp1Cloud, humanDp2Cloud],
   lines:[[humanSfoaeLineF,humanSfoaeLineV],[humanDp1LineF,humanDp1LineV],[humanDp2LineF,humanDp2LineV]],
   bins:[[humanSfoaeBinF,humanSfoaeBinMean,humanSfoaeBinHi,humanSfoaeBinLo],[humanDp1BinF,humanDp1BinMean,humanDp1BinHi,humanDp1BinLo],[humanDp2BinF,humanDp2BinMean,humanDp2BinHi,humanDp2BinLo]]},
  {xa:'x2', ya:'y2', clouds:[chickenSfoaeCloud, chickenDp1Cloud, chickenDp2Cloud],
   lines:[[chickenSfoaeLineF,chickenSfoaeLineV],[chickenDp1LineF,chickenDp1LineV],[chickenDp2LineF,chickenDp2LineV]],
   bins:[[chickenSfoaeBinF,chickenSfoaeBinMean,chickenSfoaeBinHi,chickenSfoaeBinLo],[chickenDp1BinF,chickenDp1BinMean,chickenDp1BinHi,chickenDp1BinLo],[chickenDp2BinF,chickenDp2BinMean,chickenDp2BinHi,chickenDp2BinLo]]},
  {xa:'x3', ya:'y3', clouds:[geckoSfoaeCloud, geckoDp1Cloud, geckoDp2Cloud],
   lines:[[geckoSfoaeLineF,geckoSfoaeLineV],[geckoDp1LineF,geckoDp1LineV],[geckoDp2LineF,geckoDp2LineV]],
   bins:[[geckoSfoaeBinF,geckoSfoaeBinMean,geckoSfoaeBinHi,geckoSfoaeBinLo],[geckoDp1BinF,geckoDp1BinMean,geckoDp1BinHi,geckoDp1BinLo],[geckoDp2BinF,geckoDp2BinMean,geckoDp2BinHi,geckoDp2BinLo]]},
  {xa:'x4', ya:'y4', clouds:[frogSfoaeCloud, frogDp1Cloud, frogDp2Cloud],
   lines:[[frogSfoaeLineF,frogSfoaeLineV],[frogDp1LineF,frogDp1LineV],[frogDp2LineF,frogDp2LineV]],
   bins:[[frogSfoaeBinF,frogSfoaeBinMean,frogSfoaeBinHi,frogSfoaeBinLo],[frogDp1BinF,frogDp1BinMean,frogDp1BinHi,frogDp1BinLo],[frogDp2BinF,frogDp2BinMean,frogDp2BinHi,frogDp2BinLo]]}
];

const traces = [];
const cloudOrder = [1, 2, 0];
const lineOrder = [1, 0, 2];
panels.forEach(p => {
  cloudOrder.forEach(s => {
    const c = p.clouds[s];
    traces.push({type:'scatter', mode:'markers', xaxis:p.xa, yaxis:p.ya, showlegend:false, hoverinfo:'skip',
      x:c.map(d=>d[0]), y:c.map(d=>d[1]),
      marker:{symbol:cloudStyle[s].symbol, size:cloudStyle[s].size, color:cloudStyle[s].color, line:{width:0}}});
  });
  lineOrder.forEach(s => {
    traces.push({type:'scatter', mode:'lines', xaxis:p.xa, yaxis:p.ya, showlegend:false, hoverinfo:'skip',
      x:p.lines[s][0], y:p.lines[s][1], line:Object.assign({shape:'spline', smoothing:0.6}, lineStyle[s])});
  });
  lineOrder.forEach(s => {
    const [f, m, hi, lo] = p.bins[s];
    traces.push({type:'scatter', mode:'markers', xaxis:p.xa, yaxis:p.ya, showlegend:false, hoverinfo:'skip',
      x:f, y:m, marker:{symbol:meanMarker[s].symbol, size:meanMarker[s].size, color:meanMarker[s].color},
      error_y:{type:'data', symmetric:false, array:hi.map((h,i)=>h===null?null:h-m[i]), arrayminus:lo.map((l,i)=>l===null?null:m[i]-l),
        color:seriesColor[s], thickness:2.6, width:13}});
  });
});
// legend entries (padding with no-break spaces to place the labels like the original box)
const NB = '\u00a0';
const legendPadLeft = [6, 7, 7];
seriesNames.forEach((n, s) => {
  traces.push({type:'scatter', mode:'lines+markers', xaxis:'x', yaxis:'y', name:NB.repeat(legendPadLeft[s]) + n + NB.repeat(4), legendgroup:'g'+s,
    x:[null], y:[null], line:lineStyle[s], marker:{symbol:meanMarker[s].symbol, size:meanMarker[s].size+4, color:meanMarker[s].color}});
});

const tickFont = {family:FONT, size:20, weight:700, color:INK};
function xAxis(domain, anchor){
  return {type:'log', domain:domain, anchor:anchor, range:[Math.log10(0.298),1.003], tickvals:xTickVals, ticktext:xTickText,
    ticks:'inside', ticklen:5, tickwidth:1, tickcolor:'#000', showline:true, linecolor:'#000', linewidth:1.5, ticklabelstandoff:-4,
    showgrid:true, gridcolor:'#c4c4c4', griddash:'dot', gridwidth:1, zeroline:false, tickfont:tickFont, fixedrange:true};
}
function yAxis(domain, anchor, range, vals, text){
  return {domain:domain, anchor:anchor, range:range, tickvals:vals, ticktext:text,
    ticks:'inside', ticklen:5, tickwidth:1, tickcolor:'#000', showline:true, linecolor:'#000', linewidth:1.5, ticklabelstandoff:-2,
    showgrid:true, gridcolor:'#c4c4c4', griddash:'dot', gridwidth:1, zeroline:false, tickfont:tickFont, fixedrange:true};
}
const W = 1270, H = 1112;
const px = v => v / W, py = v => 1 - v / H;

const layout = {
  width:W, height:H, margin:{l:0,r:0,t:0,b:0}, paper_bgcolor:'#fff', plot_bgcolor:'#fff',
  font:{family:FONT, color:INK},
  xaxis: xAxis([px(101), px(645)], 'y'),
  yaxis: yAxis([py(450), py(20)], 'x', [-1,12], humanYTicks, humanYText),
  xaxis2: xAxis([px(705), px(1249)], 'y2'),
  yaxis2: yAxis([py(449), py(20)], 'x2', [-1,3], chickenYTicks, chickenYText),
  xaxis3: xAxis([px(105), px(649)], 'y3'),
  yaxis3: yAxis([py(952), py(520)], 'x3', [-1,5], geckoYTicks, geckoYText),
  xaxis4: xAxis([px(707), px(1251)], 'y4'),
  yaxis4: yAxis([py(949), py(517)], 'x4', [-1,6], frogYTicks, frogYText),
  showlegend:true,
  legend:{x:px(1004), y:py(975), xanchor:'left', yanchor:'top', bgcolor:'#fff', bordercolor:'#777', borderwidth:1.5,
    font:{family:FONT, size:21, weight:700, color:INK}, tracegroupgap:15, traceorder:'grouped', itemwidth:70, indentation:14, itemclick:false},
  annotations:[]
};
const titlePos = [[577,35,576,66,578,91],[1192,35,1190,66,1191,91],[602,534,598,565,600,590],[1197,531,1196,562,1198,588]];
panelNames.forEach((n,i)=>{
  const t = titlePos[i];
  layout.annotations.push({xref:'paper', yref:'paper', x:px(t[0]), y:py(t[1]), text:n, showarrow:false, xanchor:'center', yanchor:'middle',
    font:{family:FONT, size:28, weight:700, color:INK}});
  layout.annotations.push({xref:'paper', yref:'paper', x:px(t[2]), y:py(t[3]), text:panelSfoaeLevel[i], showarrow:false, xanchor:'center', yanchor:'middle',
    font:{family:FONT, size:18.5, color:INK}});
  layout.annotations.push({xref:'paper', yref:'paper', x:px(t[4]), y:py(t[5]), text:panelDpoaeLevel[i], showarrow:false, xanchor:'center', yanchor:'middle',
    font:{family:FONT, size:18.5, color:INK}});
});
layout.annotations.push({xref:'paper', yref:'paper', x:px(28), y:py(533), text:'Phase-Gradient Delay [ms]', textangle:-90, showarrow:false,
  xanchor:'center', yanchor:'middle', font:{family:FONT, size:28, weight:700, color:INK}});
layout.annotations.push({xref:'paper', yref:'paper', x:px(683), y:py(1033), text:'Emission Frequency [kHz]', showarrow:false,
  xanchor:'center', yanchor:'middle', font:{family:FONT, size:28, weight:700, color:INK}});

Plotly.newPlot('chart', traces, layout, {staticPlot:true, displayModeBar:false});
</script></body></html>
